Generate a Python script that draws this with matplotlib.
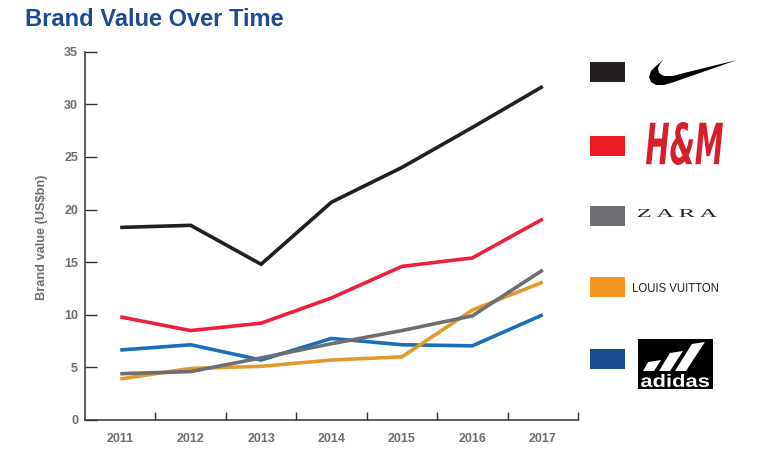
import matplotlib
matplotlib.use('Agg')
import matplotlib.pyplot as plt
from matplotlib.patches import Rectangle, Polygon, PathPatch
from matplotlib.textpath import TextPath
from matplotlib.font_manager import FontProperties
from matplotlib.transforms import Affine2D

plt.rcParams['font.family'] = ['Liberation Sans', 'DejaVu Sans']

# Data (US$bn)
years = [2011, 2012, 2013, 2014, 2015, 2016, 2017]
nike = [18.3, 18.5, 14.8, 20.7, 24.0, 27.8, 31.7]
hm = [9.8, 8.5, 9.2, 11.6, 14.6, 15.4, 19.1]
zara = [4.4, 4.6, 5.9, 7.25, 8.5, 9.9, 14.25]
louis_vuitton = [3.9, 4.9, 5.1, 5.7, 6.0, 10.45, 13.1]
adidas = [6.65, 7.15, 5.7, 7.75, 7.15, 7.05, 10.0]

# (name, values, line colour, legend swatch colour) - drawn in this order
series = [
    ('adidas', adidas, '#1a6fb6', '#1b4a8f'),
    ('Louis Vuitton', louis_vuitton, '#e39a2d', '#f7941d'),
    ('Zara', zara, '#6d6e71', '#6d6e71'),
    ('H&M', hm, '#ec1f3c', '#ed1c24'),
    ('Nike', nike, '#231f20', '#231f20'),
]

W, H = 763, 472
fig = plt.figure(figsize=(W / 100, H / 100), dpi=100)
ax = fig.add_axes([85 / W, 1 - 420 / H, (578 - 85) / W, (420 - 51.7) / H])

for name, vals, col, _ in series:
    ax.plot(years, vals, color=col, linewidth=2.6, solid_capstyle='butt',
            solid_joinstyle='miter', label=name)

grey = '#6d6e71'
ax.set_xlim(years[0] - 0.5, years[-1] + 0.5)
ax.set_ylim(0, 35)
ax.set_yticks(range(0, 36, 5))
ax.set_xticks([y + 0.5 for y in years])
ax.set_xticklabels([])
ax.set_xticks(years, minor=True)
ax.set_xticklabels([str(y) for y in years], minor=True)
ax.tick_params(axis='x', which='major', direction='in', length=6, width=1, color='#333333')
ax.tick_params(axis='x', which='minor', length=0, pad=9, labelsize=9, labelcolor=grey)
ax.tick_params(axis='y', direction='in', length=8.5, width=1, color='#333333',
               pad=5, labelsize=9, labelcolor=grey)
for lab in ax.get_xticklabels(minor=True) + ax.get_yticklabels():
    lab.set_fontweight('bold')
for s in ['top', 'right']:
    ax.spines[s].set_visible(False)
for s in ['left', 'bottom']:
    ax.spines[s].set_color('#333333')
    ax.spines[s].set_linewidth(1.1)

fig.text(42 / W, 1 - 237 / H, 'Brand value (US$bn)', rotation=90, ha='center', va='center',
         fontsize=9.2, fontweight='bold', color=grey)
fig.text(25 / W, 1 - 19 / H, 'Brand Value Over Time', ha='left', va='center',
         fontsize=17, fontweight='bold', color='#1c4b96')

# Legend with brand marks, drawn in pixel coordinates on an overlay
lg = fig.add_axes([0, 0, 1, 1], facecolor='none')
lg.set_xlim(0, W)
lg.set_ylim(H, 0)
lg.axis('off')


def fit_text(s, x0, y0, x1, y1, prop, color):
    tp = TextPath((0, 0), s, size=10, prop=prop)
    ext = tp.get_extents()
    tr = Affine2D().translate(-ext.x0, -ext.y0).scale(
        (x1 - x0) / ext.width, -(y1 - y0) / ext.height).translate(x0, y1)
    lg.add_patch(PathPatch(tr.transform_path(tp), facecolor=color, edgecolor='none'))


swatch_y = {'Nike': 62, 'H&M': 136, 'Zara': 206, 'Louis Vuitton': 277, 'adidas': 349}
for name, _, _, sw in series:
    lg.add_patch(Rectangle((590, swatch_y[name]), 35, 20, facecolor=sw, edgecolor='none'))

# Nike swoosh
swoosh = [(663, 60), (656, 66), (651, 71), (649, 77), (651, 82), (656, 85), (664, 85),
          (674, 82), (737, 60), (684, 73), (673, 76), (664, 76), (659, 73),
          (658, 68), (660, 64)]
lg.add_patch(Polygon(swoosh, closed=True, facecolor='black', edgecolor='none'))

# H&M
fit_text('H&M', 646, 122, 723, 165,
         FontProperties(family='DejaVu Sans', weight='bold', style='italic'), '#d71f2b')

# ZARA
fit_text('Z A R A', 638, 209, 717, 217,
         FontProperties(family='Liberation Serif', weight='normal'), '#222222')

# Louis Vuitton
fit_text('LOUIS VUITTON', 633, 283, 718, 292,
         FontProperties(family='Liberation Sans'), '#222222')

# adidas
lg.add_patch(Rectangle((638, 339), 75, 50, facecolor='black', edgecolor='none'))
for i in range(3):
    x0 = 643 + i * 16
    h = 11 + i * 9
    w = 11
    lg.add_patch(Polygon([(x0, 371), (x0 + w, 371), (x0 + w + 0.65 * h, 371 - h),
                          (x0 + 0.65 * h - 2, 371 - h + 2)], closed=True,
                         facecolor='white', edgecolor='none'))
fit_text('adidas', 641, 374, 709, 387,
         FontProperties(family='Liberation Sans', weight='bold'), 'white')

fig.savefig('out.png', dpi=100)
